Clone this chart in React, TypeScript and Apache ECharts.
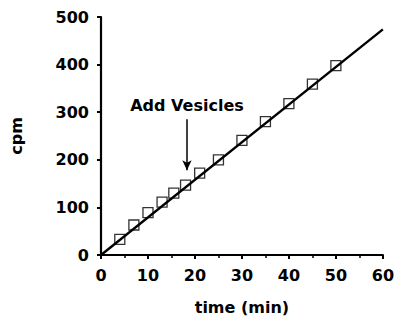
import React, { useEffect, useRef } from "react";
import * as echarts from "echarts";

const timeMin = [4, 7, 10, 13, 15.5, 18, 21, 25, 30, 35, 40, 45, 50];
const cpm = [33, 63, 89, 111, 130, 147, 172, 200, 241, 280, 318, 359, 398];
const fitLine = [
  [0, 0],
  [60, 474],
];
const arrowX = 18.3;
const arrowFrom = 285;
const arrowTo = 178;
const arrowText = "Add Vesicles";

const FONT = "DejaVu Sans";

export default function App() {
  const ref = useRef<HTMLDivElement>(null);
  useEffect(() => {
    if (!ref.current) return;
    const chart = echarts.init(ref.current, undefined, { renderer: "svg" });
    chart.setOption({
      animation: false,
      backgroundColor: "#fff",
      grid: { left: 100, right: 12.5, top: 17, bottom: 63.5 },
      xAxis: {
        type: "value",
        min: 0,
        max: 60,
        interval: 10,
        name: "time (min)",
        nameLocation: "middle",
        nameGap: 44,
        nameTextStyle: { color: "#000", fontFamily: FONT, fontWeight: "bold", fontSize: 16 },
        axisLine: { show: true, lineStyle: { color: "#000", width: 2.2 } },
        axisTick: { show: true, inside: false, length: 4, lineStyle: { color: "#000", width: 2 } },
        minorTick: { show: true, splitNumber: 2, length: 3, lineStyle: { color: "#000", width: 1.5 } },
        splitLine: { show: false },
        axisLabel: { color: "#000", fontFamily: FONT, fontWeight: "bold", fontSize: 16, margin: 12 },
      },
      yAxis: {
        type: "value",
        min: 0,
        max: 500,
        interval: 100,
        name: "cpm",
        nameLocation: "middle",
        nameGap: 77,
        nameTextStyle: { color: "#000", fontFamily: FONT, fontWeight: "bold", fontSize: 16 },
        axisLine: { show: true, lineStyle: { color: "#000", width: 2.2 } },
        axisTick: { show: true, inside: false, length: 4, lineStyle: { color: "#000", width: 2 } },
        splitLine: { show: false },
        axisLabel: { color: "#000", fontFamily: FONT, fontWeight: "bold", fontSize: 16, margin: 12 },
      },
      series: [
        {
          type: "line",
          data: fitLine,
          symbol: "none",
          lineStyle: { color: "#000", width: 2.4 },
          z: 2,
          markLine: {
            silent: true,
            symbol: ["none", "arrow"],
            symbolSize: [7, 10],
            lineStyle: { color: "#000", width: 1.5, type: "solid" },
            label: {
              show: true,
              position: "start",
              distance: 6,
              formatter: arrowText,
              color: "#000",
              fontFamily: FONT,
              fontWeight: "bold",
              fontSize: 16,
            },
            data: [
              [
                { coord: [arrowX, arrowFrom] },
                { coord: [arrowX, arrowTo] },
              ],
            ],
          },
        },
        {
          type: "scatter",
          data: timeMin.map((t, i) => [t, cpm[i]]),
          symbol: "rect",
          symbolSize: 10,
          itemStyle: { color: "rgba(255,255,255,0)", borderColor: "#000", borderWidth: 1.3 },
          z: 3,
        },
      ],
    });
    return () => chart.dispose();
  }, []);
  return <div ref={ref} style={{ width: 397, height: 320, position: "absolute", left: 0, top: 0 }} />;
}
